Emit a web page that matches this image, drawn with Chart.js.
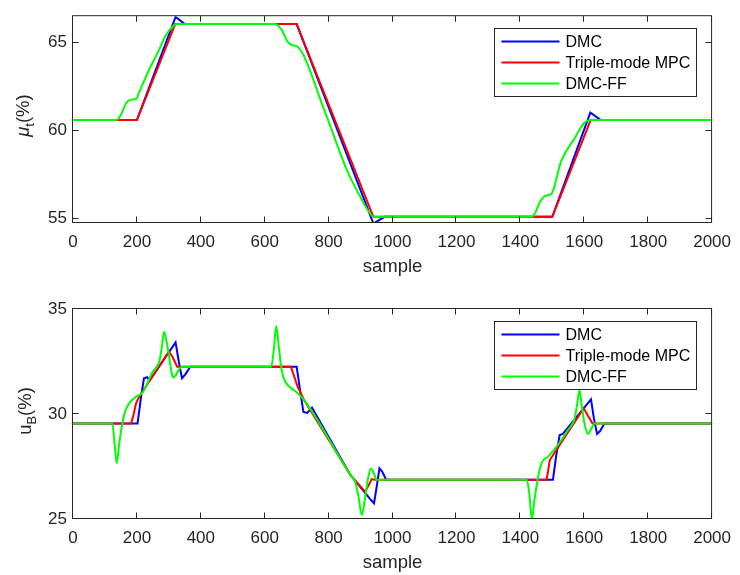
<!DOCTYPE html>
<html>
<head>
<meta charset="utf-8">
<script src="https://cdn.jsdelivr.net/npm/chart.js"></script>
<style>
  html, body { margin: 0; padding: 0; background: #fff; }
  #wrap { position: relative; width: 740px; height: 575px; }
  #topChart { position: absolute; left: 0; top: 0; }
  #botChart { position: absolute; left: 0; top: 287px; }
</style>
</head>
<body>
<div id="wrap">
  <canvas id="topChart" width="740" height="287"></canvas>
  <canvas id="botChart" width="740" height="288"></canvas>
</div>
<script>
// series names / colours (legend order)
const seriesNames = ['DMC', 'Triple-mode MPC', 'DMC-FF'];
const seriesColors = ['#0000ff', '#ff0000', '#00ff00'];

// tick labels
const xTicks = [0, 200, 400, 600, 800, 1000, 1200, 1400, 1600, 1800, 2000];
const muTicks = [55, 60, 65];
const uTicks = [25, 30, 35];

// top plot: mu_t (%), [sample, value]
const dmcMu = [[0,60.6],[200,60.6],[321,66.46],[350,66.05],[700,66.05],[940,54.72],[975,55.1],
  [1500,55.1],[1619,61.02],[1652,60.6],[2000,60.6]];
const mpcMu = [[0,60.6],[200,60.6],[320,66.05],[700,66.05],[940,55.1],[1500,55.1],[1620,60.6],[2000,60.6]];
const ffMu = [[0,60.6],[135,60.6],[145,60.75],[155,61.1],[166,61.55],[180,61.75],[198,61.8],[207,62.17],
  [238,63.46],[269,64.57],[290,65.4],[310,65.87],[325,66.05],[630,66.05],[651,65.78],[672,65.04],
  [687,64.85],[703,64.76],[785,61.24],[858,57.72],[899,56.24],[935,55.17],[945,55.1],[1435,55.1],
  [1447,55.35],[1460,55.9],[1472,56.22],[1485,56.33],[1497,56.4],[1528,58.28],[1570,59.57],
  [1601,60.46],[1620,60.6],[2000,60.6]];

// bottom plot: u_B (%), [sample, value]
const dmcU = [[0,29.55],[202,29.55],[212,30.7],[222,31.7],[232,31.75],[240,31.6],[321,33.41],[331,32.5],
  [341,31.7],[352,31.9],[367,32.25],[700,32.25],[710,31.2],[721,30.1],[733,30.05],[748,30.3],
  [868,27.1],[914,26.25],[930,25.95],[942,25.75],[950,26.5],[959,27.41],[968,27.25],[980,26.87],
  [1502,26.87],[1512,28.0],[1523,29.0],[1533,29.05],[1621,30.7],[1630,29.8],[1640,29.05],
  [1650,29.2],[1663,29.55],[2000,29.55]];
const mpcU = [[0,29.55],[182,29.55],[190,30.0],[197,30.5],[207,30.82],[300,32.97],[312,32.7],[326,32.25],
  [682,32.25],[692,31.8],[703,31.3],[723,30.67],[868,27.1],[914,26.3],[925,26.6],[935,26.9],
  [945,26.87],[1482,26.87],[1487,27.3],[1492,27.81],[1598,30.27],[1612,29.9],[1626,29.55],[2000,29.55]];
const ffU = [[0,29.55],[123,29.55],[130,28.6],[137,27.65],[144,28.5],[151,29.24],[161,30.03],[176,30.51],
  [197,30.82],[217,31.0],[249,32.0],[270,32.5],[278,33.2],[285,33.92],[292,33.5],[300,32.81],
  [307,32.1],[313,31.74],[322,31.85],[331,32.1],[341,32.25],[620,32.25],[628,33.0],[636,34.19],
  [644,33.2],[653,32.1],[662,31.6],[672,31.38],[685,31.2],[698,31.06],[723,30.67],[868,27.1],
  [883,26.78],[893,26.1],[904,25.19],[913,25.9],[923,26.9],[932,27.41],[941,27.2],[950,26.87],
  [1420,26.87],[1428,26.2],[1436,24.99],[1444,25.9],[1454,26.87],[1466,27.65],[1487,27.97],
  [1513,28.44],[1549,29.24],[1570,29.8],[1578,30.5],[1585,31.14],[1592,30.4],[1600,29.6],
  [1611,29.05],[1622,29.3],[1632,29.55],[2000,29.55]];

const axisColor = '#262626';
const fontFamily = "'Liberation Sans', Arial, Helvetica, sans-serif";

// matlab style box, inward ticks, axis titles and legend
const framePlugin = {
  id: 'matlabFrame',
  afterDraw(chart, args, o) {
    const ctx = chart.ctx, a = chart.chartArea;
    const xs = chart.scales.x, ys = chart.scales.y;
    const L = a.left - 0.5, R = a.right - 0.5, T = a.top - 0.5, B = a.bottom - 0.5;
    ctx.save();
    ctx.strokeStyle = axisColor;
    ctx.lineWidth = 1;
    ctx.beginPath();
    ctx.rect(L, T, R - L, B - T);
    xTicks.forEach(v => {
      const px = Math.round(xs.getPixelForValue(v)) - 0.5;
      ctx.moveTo(px, B); ctx.lineTo(px, B - 6);
      ctx.moveTo(px, T); ctx.lineTo(px, T + 6);
    });
    o.yTicks.forEach(v => {
      const py = Math.round(ys.getPixelForValue(v)) - 0.5;
      ctx.moveTo(L, py); ctx.lineTo(L + 6, py);
      ctx.moveTo(R, py); ctx.lineTo(R - 6, py);
    });
    ctx.stroke();

    // x title
    ctx.fillStyle = axisColor;
    ctx.font = '18.5px ' + fontFamily;
    ctx.textAlign = 'left';
    ctx.textBaseline = 'alphabetic';
    const xw = ctx.measureText(o.xTitle).width;
    ctx.fillText(o.xTitle, (a.left + a.right) / 2 - xw / 2, a.bottom + 48.5);

    // y title with subscript
    ctx.save();
    ctx.translate(o.yTitleX, (a.top + a.bottom) / 2 + o.yTitleShift);
    ctx.rotate(-Math.PI / 2);
    const fontOf = p => (p.italic ? 'italic ' : '') + (p.sub ? '13px ' : '18.5px ') + fontFamily;
    let total = 0;
    o.yTitle.forEach(p => { ctx.font = fontOf(p); p.w = ctx.measureText(p.t).width; total += p.w; });
    let cx = -total / 2;
    o.yTitle.forEach(p => {
      ctx.font = fontOf(p);
      ctx.fillText(p.t, cx, p.sub ? 4.5 : 0);
      cx += p.w;
    });
    ctx.restore();

    // legend
    const lx = Math.round(a.right - 218) + 0.5, ly = Math.round(a.top + 12) + 0.5;
    ctx.fillStyle = '#ffffff';
    ctx.fillRect(lx, ly, 202, 68);
    ctx.strokeStyle = axisColor;
    ctx.lineWidth = 1;
    ctx.strokeRect(lx, ly, 202, 68);
    ctx.font = '16px ' + fontFamily;
    ctx.textBaseline = 'middle';
    chart.data.datasets.forEach((ds, i) => {
      const ry = ly + 13 + i * 21;
      ctx.strokeStyle = ds.borderColor;
      ctx.lineWidth = 2;
      ctx.beginPath();
      ctx.moveTo(lx + 7, ry); ctx.lineTo(lx + 65, ry);
      ctx.stroke();
      ctx.fillStyle = '#000000';
      ctx.fillText(ds.label, lx + 71, ry + 1);
    });
    ctx.restore();
  }
};

function makeChart(id, series, yMin, yMax, yTicks, padTop, xAxisH, yTitle, yTitleX, yTitleShift) {
  return new Chart(document.getElementById(id), {
    type: 'line',
    data: {
      datasets: series.map((s, i) => ({
        label: seriesNames[i],
        data: s.map(p => ({ x: p[0], y: p[1] })),
        borderColor: seriesColors[i],
        borderWidth: 2,
        pointRadius: 0,
        fill: false,
        tension: 0,
        cubicInterpolationMode: i === 2 ? 'monotone' : 'default',
        order: 2 - i
      }))
    },
    options: {
      responsive: false,
      animation: false,
      events: [],
      layout: { padding: { top: padTop, right: 21, left: 0, bottom: 0 } },
      plugins: {
        legend: { display: false },
        tooltip: { enabled: false },
        matlabFrame: { yTicks: yTicks, xTitle: 'sample', yTitle: yTitle, yTitleX: yTitleX, yTitleShift: yTitleShift }
      },
      scales: {
        x: {
          type: 'linear', min: 0, max: 2000,
          grid: { display: false, drawTicks: false },
          border: { display: false },
          afterBuildTicks: s => { s.ticks = xTicks.map(v => ({ value: v })); },
          afterFit: s => { s.height = xAxisH; },
          ticks: {
            font: { family: fontFamily, size: 17 }, color: axisColor,
            padding: 9, maxRotation: 0, autoSkip: false,
            callback: v => String(v)
          }
        },
        y: {
          type: 'linear', min: yMin, max: yMax,
          grid: { display: false, drawTicks: false },
          border: { display: false },
          afterBuildTicks: s => { s.ticks = yTicks.map(v => ({ value: v })); },
          afterFit: s => { s.width = 73; },
          ticks: {
            font: { family: fontFamily, size: 17 }, color: axisColor,
            padding: 6, callback: v => String(v)
          }
        }
      }
    },
    plugins: [framePlugin]
  });
}

makeChart('topChart', [dmcMu, mpcMu, ffMu], 54.75, 66.5, muTicks, 13, 64,
  [{ t: '\u03bc', italic: true }, { t: 't', sub: true }, { t: '(%)' }], 29, -4);
makeChart('botChart', [dmcU, mpcU, ffU], 25, 35, uTicks, 22, 56,
  [{ t: 'u' }, { t: 'B', sub: true }, { t: '(%)' }], 31, -3);
</script>
</body>
</html>
